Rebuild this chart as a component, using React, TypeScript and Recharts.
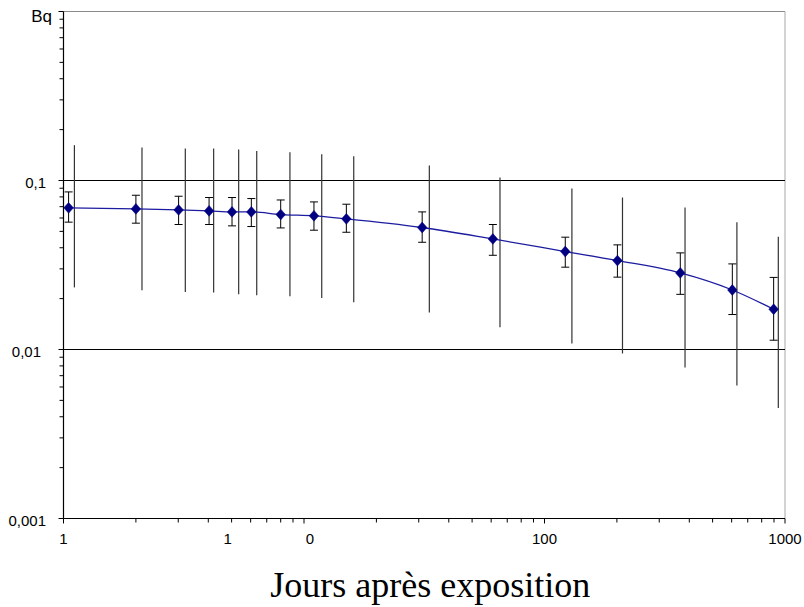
import React from 'react';
import { ComposedChart, Line, Scatter, XAxis, YAxis, ErrorBar, ReferenceLine, Label } from 'recharts';

// Days after exposure for the plotted points
const days = [1.05, 2.0, 3.01, 4.03, 5.02, 6.04, 8.0, 11.0, 15.0, 31.0, 61.0, 122, 201, 367, 604, 897];
// Activity (Bq)
const activity = [0.0689, 0.0679, 0.067, 0.0661, 0.0652, 0.0652, 0.0629, 0.0618, 0.0593, 0.0527, 0.0451, 0.038, 0.0336, 0.0284, 0.0225, 0.0173];
// Small (capped) error bars
const smallLow = [0.0567, 0.0559, 0.0549, 0.0549, 0.0539, 0.0534, 0.0524, 0.0508, 0.0494, 0.0431, 0.0361, 0.0307, 0.0268, 0.0212, 0.0161, 0.01135];
const smallHigh = [0.0856, 0.0818, 0.0807, 0.0793, 0.0793, 0.0782, 0.0767, 0.0747, 0.0724, 0.0652, 0.0549, 0.0462, 0.0416, 0.0373, 0.0321, 0.0267];
// Large (uncapped) ranges, drawn slightly to the right of each point
const rangeDays = [1.11, 2.12, 3.21, 4.21, 5.35, 6.36, 8.74, 11.85, 16.1, 33.2, 65.3, 130, 211, 384, 631, 938];
const rangeLow = [0.0233, 0.02244, 0.02192, 0.02175, 0.02125, 0.02096, 0.02067, 0.0202, 0.01905, 0.01656, 0.01355, 0.01086, 0.00947, 0.00782, 0.00612, 0.00451];
const rangeHigh = [0.1618, 0.1567, 0.1546, 0.1546, 0.1525, 0.1497, 0.147, 0.1432, 0.1393, 0.1227, 0.1042, 0.0897, 0.0793, 0.0692, 0.0566, 0.0464];

// Axis ticks and labels
const xDecades = [1, 10, 100];
const xTicks = [...xDecades.flatMap((d) => [1, 2, 3, 4, 5, 6, 7, 8, 9].map((k) => k * d)), 1000];
const xLabelTicks = [1, 5, 10, 100, 1000];
const xLabels = ['1', '1', '0', '100', '1000'];
const yDecades = [0.001, 0.01, 0.1];
const yTicks = [...yDecades.flatMap((d) => [1, 2, 3, 4, 5, 6, 7, 8, 9].map((k) => k * d)), 1];
const yLabelTicks = [0.001, 0.01, 0.1, 1];
const yLabels = ['0,001', '0,01', '0,1', 'Bq'];

// style tweaks (label offsets)
const xLabelDx: Record<string, number> = { '5': -4, '10': 6 };
const yLabelStyle: Record<number, { dx: number; dy: number; size: number }> = {
  0: { dx: 0, dy: 7, size: 15 },
  1: { dx: -5, dy: 7, size: 15 },
  2: { dx: 0, dy: 7, size: 15 },
  3: { dx: 6, dy: 10, size: 17 },
};

const FONT = '"Liberation Sans", Arial, Helvetica, sans-serif';
const NAVY = '#000080';

const pointData = days.map((x, i) => ({
  x,
  y: activity[i],
  err: [activity[i] - smallLow[i], smallHigh[i] - activity[i]],
}));
const rangeData = rangeDays.map((x, i) => ({
  x,
  y: activity[i],
  err: [activity[i] - rangeLow[i], rangeHigh[i] - activity[i]],
}));

const near = (a: number, b: number) => Math.abs(Math.log10(a) - Math.log10(b)) < 1e-6;
const isPow10 = (v: number) => Math.abs(Math.log10(v) - Math.round(Math.log10(v))) < 1e-6;

const XTick = (props: any) => {
  const { x, y, payload } = props;
  const v = payload.value as number;
  const li = xLabelTicks.findIndex((t) => near(t, v));
  const major = isPow10(v);
  return (
    <g>
      <line x1={x} x2={x} y1={y} y2={y + (major ? 5 : 4)} stroke="#000" strokeWidth={1} />
      {li >= 0 && (
        <text x={x + (xLabelDx[String(xLabelTicks[li])] || 0)} y={y + 25} textAnchor="middle" fontSize={15} fontFamily={FONT} fill="#000">
          {xLabels[li]}
        </text>
      )}
    </g>
  );
};

const YTick = (props: any) => {
  const { x, y, payload } = props;
  const v = payload.value as number;
  const li = yLabelTicks.findIndex((t) => near(t, v));
  const major = isPow10(v);
  const st = li >= 0 ? yLabelStyle[li] : null;
  return (
    <g>
      <line x1={x - (major ? 5 : 4)} x2={x} y1={y} y2={y} stroke="#000" strokeWidth={1} />
      {li >= 0 && st && (
        <text x={x - 17.5 + st.dx} y={y + st.dy} textAnchor="end" fontSize={st.size} fontFamily={FONT} fill="#000">
          {yLabels[li]}
        </text>
      )}
    </g>
  );
};

const Diamond = (p: any) => {
  const { cx, cy, index } = p;
  if (cx == null || cy == null) return <g key={`d-${index}`} />;
  const rx = 4.8;
  const ry = 5.4;
  return (
    <polygon
      key={`d-${index}`}
      points={`${cx},${cy - ry} ${cx + rx},${cy} ${cx},${cy + ry} ${cx - rx},${cy}`}
      fill={NAVY}
      stroke={NAVY}
      strokeWidth={0.5}
    />
  );
};

const TitleLabel = (p: any) => {
  const vb = p.viewBox || { x: 63.5, y: 518.5, width: 721.5, height: 30 };
  return (
    <text x={vb.x + vb.width / 2 + 6} y={vb.y + 78} textAnchor="middle" fontSize={36} fontFamily='"Liberation Serif", "Times New Roman", Times, serif' fill="#000">
      Jours après exposition
    </text>
  );
};

export default function App() {
  return (
    <div style={{ position: 'absolute', left: 0, top: 0, width: 804, height: 607, background: '#fff' }}>
      <ComposedChart width={804} height={607} margin={{ top: 11.5, right: 19, bottom: 58.5, left: 8.5 }}>
        <XAxis
          dataKey="x"
          type="number"
          scale="log"
          domain={[1, 1000]}
          allowDataOverflow
          ticks={xTicks}
          interval={0}
          tickSize={0}
          tickMargin={0}
          tickLine={false}
          tick={<XTick />}
          axisLine={{ stroke: '#000', strokeWidth: 1.2 }}
          height={30}
        >
          <Label content={<TitleLabel />} />
        </XAxis>
        <YAxis
          dataKey="y"
          type="number"
          scale="log"
          domain={[0.001, 1]}
          allowDataOverflow
          ticks={yTicks}
          interval={0}
          tickSize={0}
          tickMargin={0}
          tickLine={false}
          tick={<YTick />}
          axisLine={{ stroke: '#000', strokeWidth: 1.2 }}
          width={55}
        />
        <ReferenceLine y={1} stroke="#8a8a8a" strokeWidth={1} />
        <ReferenceLine x={1000} stroke="#a8a8a8" strokeWidth={1} />
        <ReferenceLine y={0.1} stroke="#000" strokeWidth={1.2} />
        <ReferenceLine y={0.01} stroke="#000" strokeWidth={1.2} />
        <Scatter data={rangeData} dataKey="y" isAnimationActive={false} shape={() => <g />}>
          <ErrorBar dataKey="err" direction="y" width={0} stroke="#333" strokeWidth={1.2} isAnimationActive={false} />
        </Scatter>
        <Line
          data={pointData}
          dataKey="y"
          type="monotone"
          stroke="#1c1ca0"
          strokeWidth={1.3}
          dot={Diamond}
          activeDot={false}
          isAnimationActive={false}
        >
          <ErrorBar dataKey="err" direction="y" width={4} stroke="#000" strokeWidth={1} isAnimationActive={false} />
        </Line>
      </ComposedChart>
    </div>
  );
}
